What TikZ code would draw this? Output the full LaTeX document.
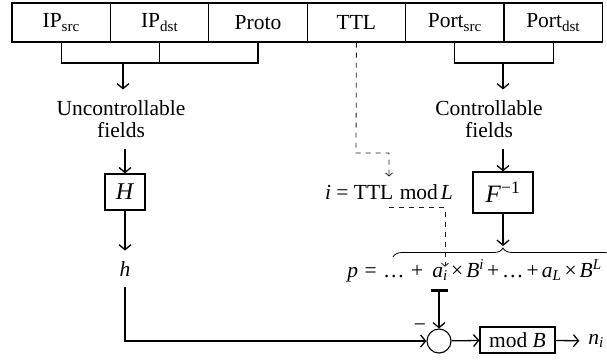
\documentclass[tikz,border=0pt]{standalone}
\usepackage{fontspec}
\setmainfont{Liberation Serif}
\usepackage{tikz}
\usetikzlibrary{arrows.meta, positioning, calc, decorations.pathreplacing}
\definecolor{ink}{RGB}{0,0,0}
\definecolor{dashink}{RGB}{30,30,30}
\newcommand{\eqsp}{\hspace{0.3em}}
\newcommand{\eqthin}{\hspace{0.14em}}
\tikzset{
  field/.style={draw=ink, line width=1.1pt, minimum width=98.4pt, minimum height=39pt, inner sep=0pt},
  fn/.style={draw=ink, line width=1.3pt, inner sep=0pt},
  txt/.style={inner sep=0pt, text=ink},
  wire/.style={draw=ink, line width=1.3pt},
  flow/.style={wire, -{Straight Barb[length=5pt, width=12pt, line width=1.3pt]}},
  tapflow/.style={wire, {Bar[width=17pt, line width=3pt]}-{Straight Barb[length=5pt, width=12pt, line width=1.3pt]}},
  hint/.style={draw=dashink, line width=0.8pt, dash pattern=on 5pt off 5pt},
  hintarrow/.style={hint, -{Straight Barb[length=3pt, width=7pt, line width=0.8pt]}},
}

\begin{document}
\begin{tikzpicture}[x=1pt, y=-1pt, font=\fontsize{21.5}{22}\selectfont]
  \useasboundingbox (0,0) rectangle (607,362);

  % champs de l'en-tete
  \foreach \nm/\txt [count=\k] in {ipsrc/IP\textsubscript{src}, ipdst/IP\textsubscript{dst}, proto/Proto, ttl/TTL, portsrc/Port\textsubscript{src}, portdst/Port\textsubscript{dst}}
    \node[field] (\nm) at ({12+98.4*(\k-0.5)}, 22.5) {\txt};

  % regroupements
  \coordinate (ujoin) at (123,63);
  \coordinate (cjoin) at (503,63);
  \draw[wire] (ipsrc.south) |- (proto.south |- ujoin) -- (proto.south);
  \draw[wire] (ipdst.south) -- (ipdst.south |- ujoin);
  \draw[wire] (portsrc.south) |- (portdst.south |- cjoin) -- (portdst.south);

  % entrees et fonctions
  \node[txt, align=center, outer ysep=11pt] (unc) at (121,119) {Uncontrollable\\fields};
  \node[txt, align=center, outer ysep=11pt] (ctl) at (489,119) {Controllable\\fields};
  \node[fn, minimum width=40pt, minimum height=36pt] (hbox) at (125,192) {\fontsize{24}{24}\selectfont\textit{H}};
  \node[fn, minimum width=60pt, minimum height=41pt] (finv) at (503,192.5) {\fontsize{25}{25}\selectfont\textit{F}\textsuperscript{−1}};
  \node[txt, outer ysep=11pt] (h) at (125,269) {\textit{h}};

  \draw[flow] (ujoin) -- (ujoin |- unc.north);
  \draw[flow] (cjoin) -- (cjoin |- ctl.north);
  \draw[flow] (unc.south -| hbox.north) -- (hbox.north);
  \draw[flow] (ctl.south -| finv.north) -- (finv.north);
  \draw[flow] (hbox.south) -- (h.north);

  % indice
  \coordinate (tbend) at (356,153);
  \node[txt, outer ysep=8pt] (imod) at (389,192) {\textit{i}\hspace{0.25em}=\hspace{0.25em}TTL\hspace{0.3em}mod\eqthin\textit{L}};
  \draw[hintarrow] (ttl.south) -- (tbend) -| (imod.north);

  % polynome
  \node[txt, anchor=base] (ai) at (440,277) {\textit{a}\textsubscript{\textit{i}}};
  \node[txt, anchor=base east] (eql) at (ai.base west) {\textit{p}\eqsp=\eqsp…\eqsp+\kern0.4em};
  \node[txt, anchor=base west] (eqr) at (ai.base east) {\eqthin×\eqthin\textit{B}\textsuperscript{\textit{i}}\eqthin+\eqthin…\eqthin+\eqthin\textit{a}\textsubscript{\textit{L}}\eqthin×\eqthin\textit{B}\textsuperscript{\textit{L}}};
  \draw[hintarrow] (imod.south) -| ([xshift=5pt]ai.north);

  % accolade
  \coordinate (bl) at (393,257);
  \coordinate (br) at (613,257);
  \coordinate (btip) at (503,246);
  \draw[draw=ink, line width=0.8pt, decorate, decoration={brace, amplitude=9pt}] (bl) -- (br);
  \draw[flow] (finv.south) -- (btip);

  % soustraction et modulo
  \coordinate (aibar) at (439,289);
  \node[draw=ink, line width=1.1pt, circle, minimum size=24pt, inner sep=0pt] (sum) at (439,341) {};
  \node[txt] (minus) at (420,328) {−};
  \node[fn, minimum width=75pt, minimum height=26pt] (modb) at (517.5,340) {mod \textit{B}};
  \node[txt, outer xsep=9pt] (ni) at (596,341) {\textit{n}\textsubscript{\textit{i}}};

  \draw[tapflow] (aibar) -- (sum);
  \draw[flow] (h.south) |- (sum.west);
  \draw[flow] (sum) -- (modb);
  \draw[flow] (modb) -- (ni);
\end{tikzpicture}
\end{document}
